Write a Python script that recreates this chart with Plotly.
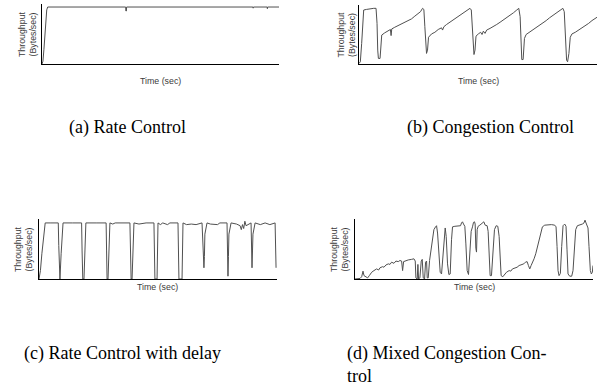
import plotly.graph_objects as go

# ---------------- data ----------------
# (a) Rate Control
a_time = [0, 0.4, 0.8, 1.2, 1.6, 2.0, 2.4, 35.3, 35.4, 35.6, 35.7, 89.0, 89.1, 89.2, 95.0, 95.1, 95.2, 100]
a_tput = [0, 0.05, 0.25, 0.55, 0.8, 0.95, 1.0, 1.0, 0.93, 0.93, 1.0, 1.0, 0.98, 1.0, 1.0, 0.97, 1.0, 1.0]

# (b) Congestion Control
b_time = [0, 0.56, 1.12, 1.54, 1.97, 3.09, 4.49, 5.2, 6.18, 7.16, 7.58, 7.87, 8.15, 8.85, 9.27, 9.55,
          10.81, 12.22, 13.2, 13.48, 13.76, 15.03, 16.43, 17.84, 19.24, 20.65, 22.05, 23.46, 24.86,
          25.84, 26.69, 27.25, 27.67, 28.09, 28.37, 28.79, 29.21, 30.48, 31.88, 33.29, 34.69, 35.11,
          35.67, 36.8, 38.2, 39.61, 41.01, 42.42, 43.82, 45.22, 46.63, 47.19, 47.61, 48.03, 48.31,
          48.74, 49.16, 50.14, 51.12, 51.69, 52.25, 52.95, 53.65, 55.06, 56.46, 57.87, 59.27, 60.67,
          62.08, 63.48, 64.89, 66.29, 67.13, 67.7, 68.12, 68.4, 68.96, 69.52, 70.22, 71.63, 73.03,
          74.44, 75.84, 77.25, 78.65, 80.06, 81.46, 82.87, 84.27, 85.67, 86.24, 86.8, 87.22, 87.64,
          88.2, 88.76, 89.47, 90.87, 92.28, 93.68, 95.08, 96.49, 97.89, 99.3, 100]
b_tput = [0.01, 0.04, 0.37, 0.79, 0.97, 0.98, 0.99, 1.0, 1.0, 1.0, 0.73, 0.25, 0.10, 0.10, 0.43, 0.52,
          0.56, 0.60, 0.62, 0.51, 0.63, 0.66, 0.69, 0.72, 0.75, 0.78, 0.81, 0.86, 0.90,
          0.94, 1.0, 0.98, 0.67, 0.31, 0.19, 0.25, 0.48, 0.54, 0.57, 0.62, 0.65, 0.61,
          0.67, 0.71, 0.75, 0.80, 0.84, 0.87, 0.91, 0.96, 1.0, 0.97, 0.61, 0.25, 0.17,
          0.25, 0.50, 0.54, 0.57, 0.53, 0.59, 0.55, 0.61, 0.64, 0.67, 0.71, 0.75, 0.79,
          0.84, 0.88, 0.92, 0.97, 1.0, 0.85, 0.31, 0.08, 0.08, 0.46, 0.53, 0.57, 0.61,
          0.66, 0.70, 0.74, 0.78, 0.83, 0.87, 0.92, 0.96, 1.0, 0.94, 0.43, 0.07, 0.04,
          0.19, 0.48, 0.54, 0.57, 0.61, 0.65, 0.68, 0.73, 0.78, 0.82, 0.84]

# (c) Rate Control with delay
c_time = [0, 0.6, 1.2, 1.8, 2.3, 2.6, 5, 8.1, 8.3, 8.5, 8.8, 9.3, 9.8, 10.1, 14, 17.9, 18.1, 18.4, 18.9,
          19.3, 19.7, 24, 28.2, 28.4, 28.6, 29, 29.4, 29.8, 31, 32, 38.2, 38.5, 38.7, 39.1, 39.5, 39.9,
          42, 45, 48.3, 48.5, 48.7, 49.6, 49.8, 50, 51, 52, 54, 55, 58.4, 58.6, 58.8, 60.1, 60.3, 60.5,
          62, 64, 66, 68.5, 69, 69.3, 69.5, 69.7, 70.6, 72, 75, 76, 79, 79.2, 79.4, 79.6, 79.8, 80.7,
          83, 84.5, 85, 85.5, 86, 86.5, 87, 89.1, 89.3, 89.5, 89.7, 89.9, 90.8, 93, 95, 97, 99.2, 99.4,
          99.6]
c_tput = [0, 0.15, 0.45, 0.7, 0.9, 1.0, 1.0, 1.0, 0.6, 0.0, 0.0, 0.45, 0.9, 1.0, 1.0, 1.0, 0.5, 0.0, 0.0,
          0.6, 1.0, 1.0, 1.0, 0.5, 0.0, 0.0, 0.6, 1.0, 0.98, 1.0, 1.0, 0.5, 0.0, 0.0, 0.6, 1.0,
          0.98, 1.0, 1.0, 0.5, 0.0, 0.0, 0.6, 1.0, 0.97, 1.0, 0.97, 1.0, 1.0, 0.5, 0.0, 0.0, 0.6, 1.0,
          0.97, 0.98, 0.97, 1.0, 0.5, 0.2, 0.4, 0.8, 1.0, 0.98, 0.97, 1.0, 1.0, 0.4, 0.05, 0.4, 0.8, 1.0,
          0.98, 0.95, 0.88, 0.97, 0.9, 1.03, 0.95, 1.0, 0.5, 0.2, 0.5, 0.8, 1.0, 0.97, 1.0, 0.97, 1.0, 0.5,
          0.2]

# (d) Mixed Congestion Control
d_time = [0, 2.1, 2.8, 3.36, 3.78, 4.48, 5.31, 6.01, 7.0, 7.97, 9.09, 9.93, 10.49, 11.61, 12.17, 13.0,
          14.0, 14.69, 15.38, 16.36, 17.2, 18.18, 18.88, 19.58, 20.0, 20.42, 21.4, 22.38, 23.78, 24.76,
          25.31, 25.59, 26.15, 26.43, 26.71, 27.27, 27.83, 28.25, 28.67, 29.23, 29.65, 30.07, 30.35,
          30.77, 31.33, 32.03, 32.59, 33.15, 33.85, 34.27, 34.69, 35.24, 35.8, 36.36, 36.92, 37.48,
          37.9, 38.32, 38.88, 39.44, 40.0, 40.56, 40.98, 41.96, 43.36, 44.34, 44.76, 45.17, 45.59,
          46.15, 46.57, 47.13, 47.69, 48.25, 48.81, 49.37, 49.79, 50.21, 50.49, 50.77, 51.05, 51.33,
          51.75, 52.45, 53.57, 54.13, 54.69, 55.52, 55.94, 56.36, 56.78, 57.34, 57.9, 58.6, 59.3, 60.0,
          60.56, 60.98, 61.4, 62.1, 62.8, 63.64, 64.76, 65.45, 66.15, 67.13, 68.11, 68.95, 69.93,
          70.91, 71.61, 72.31, 72.87, 73.43, 73.99, 74.55, 75.24, 75.94, 76.64, 77.34, 78.04, 78.74,
          79.72, 81.12, 82.52, 83.92, 84.48, 84.9, 85.31, 85.73, 86.29, 86.85, 87.41, 88.11, 88.67,
          89.09, 89.51, 90.21, 91.05, 91.61, 92.17, 92.73, 93.43, 94.41, 95.52, 96.22, 96.64, 97.06,
          97.48, 97.9, 98.32, 98.88, 99.3, 99.72, 100]
d_tput = [0, 0.01, 0.04, 0.14, 0.06, 0.04, 0.02, 0.06, 0.12, 0.15, 0.18, 0.16, 0.2, 0.22, 0.21, 0.25,
          0.27, 0.26, 0.30, 0.28, 0.32, 0.31, 0.33, 0.32, 0.15, 0.31, 0.33, 0.34, 0.35, 0.36,
          0.32, 0.02, 0, 0.26, 0, 0.02, 0.32, 0.35, 0.02, 0, 0.30, 0.32, 0.02,
          0.02, 0.33, 0.56, 0.76, 0.88, 0.93, 0.95, 0.82, 0.39, 0.12, 0.09, 0.45, 0.82,
          0.91, 0.76, 0.27, 0.08, 0.09, 0.70, 0.93, 0.94, 0.94, 0.95, 1.0, 1.02, 0.98,
          0.94, 0.64, 0.15, 0.08, 0.52, 0.85, 0.93, 1.01, 1.02, 0.98, 0.55, 0.48, 0.88,
          0.94, 0.96, 0.99, 1.02, 0.96, 0.95, 0.85, 0.30, 0.06, 0.06, 0.45, 0.88, 0.95, 0.94,
          0.76, 0.27, 0.06, 0.04, 0.08, 0.12, 0.15, 0.14, 0.18, 0.19, 0.21, 0.24, 0.26,
          0.27, 0.30, 0.31, 0.24, 0.18, 0.24, 0.29, 0.36, 0.45, 0.56, 0.70, 0.83, 0.93,
          0.96, 0.97, 0.97, 0.96, 0.93, 0.58, 0.15, 0.06, 0.10, 0.58, 0.95, 0.98, 0.94,
          0.52, 0.09, 0.05, 0.05, 0.15, 0.52, 0.88, 0.95, 0.96, 0.98, 1.0, 1.05, 1.0,
          0.96, 0.91, 0.58, 0.15, 0.09, 0.12, 0.24]

captions = ["(a) Rate Control", "(b) Congestion Control",
            "(c) Rate Control with delay", "(d) Mixed Congestion Con-<br>trol"]
x_title = "Time (sec)"
y_title = "Throughput<br>(Bytes/sec)"

# ---------------- layout helpers ----------------
W, H = 600, 390
def px(x):
    return x / W
def py(y):
    return 1 - y / H

panels = [
    # data, x-left, x-right, y-top, y-bottom, ymax
    (a_time, a_tput, 42, 279, 4, 64, 1.053),
    (b_time, b_tput, 359, 597, 5, 64, 1.06),
    (c_time, c_tput, 39, 277, 219, 279, 1.07),
    (d_time, d_tput, 355, 593, 219, 279, 1.07),
]
ytitle_x = [27, 346, 24, 340]
xtitle_y = [81, 81, 287, 287]

fig = go.Figure()
ann = []
lab_font = dict(family="Liberation Sans", size=8.8, color="#3a3a3a")
for i, (xs, ys, xl, xr, yt, yb, ymax) in enumerate(panels):
    n = "" if i == 0 else str(i + 1)
    fig.add_trace(go.Scatter(x=xs, y=ys, mode="lines",
                             line=dict(color="#505050", width=1),
                             xaxis="x" + n, yaxis="y" + n, showlegend=False,
                             hoverinfo="skip"))
    axcommon = dict(showline=True, linecolor="black", linewidth=1, showgrid=False,
                    zeroline=False, showticklabels=False, ticks="", fixedrange=True)
    fig.update_layout(**{
        "xaxis" + n: dict(domain=[px(xl), px(xr)], range=[0, 100], anchor="y" + n, **axcommon),
        "yaxis" + n: dict(domain=[py(yb), py(yt)], range=[0, ymax], anchor="x" + n, **axcommon),
    })
    ann.append(dict(x=px((xl + xr) / 2), y=py(xtitle_y[i]), xref="paper", yref="paper",
                    text=x_title, showarrow=False, xanchor="center", yanchor="middle",
                    font=lab_font))
    ann.append(dict(x=px(ytitle_x[i]), y=py((yt + yb) / 2), xref="paper", yref="paper",
                    text=y_title, showarrow=False, textangle=-90, xanchor="center",
                    yanchor="middle", font=lab_font))

cap_font = dict(family="Liberation Serif", size=18, color="black")
ann.append(dict(x=px(127), y=py(128), xref="paper", yref="paper", text=captions[0],
                showarrow=False, xanchor="center", yanchor="middle", font=cap_font))
ann.append(dict(x=px(490), y=py(128), xref="paper", yref="paper", text=captions[1],
                showarrow=False, xanchor="center", yanchor="middle", font=cap_font))
ann.append(dict(x=px(122), y=py(353), xref="paper", yref="paper", text=captions[2],
                showarrow=False, xanchor="center", yanchor="middle", font=cap_font))
ann.append(dict(x=px(345), y=py(341), xref="paper", yref="paper", text=captions[3],
                showarrow=False, xanchor="left", yanchor="top", align="left", font=cap_font))

fig.update_layout(width=W, height=H, margin=dict(l=0, r=0, t=0, b=0),
                  paper_bgcolor="white", plot_bgcolor="white", annotations=ann)

fig.write_html("out.html", config={"displayModeBar": False})
